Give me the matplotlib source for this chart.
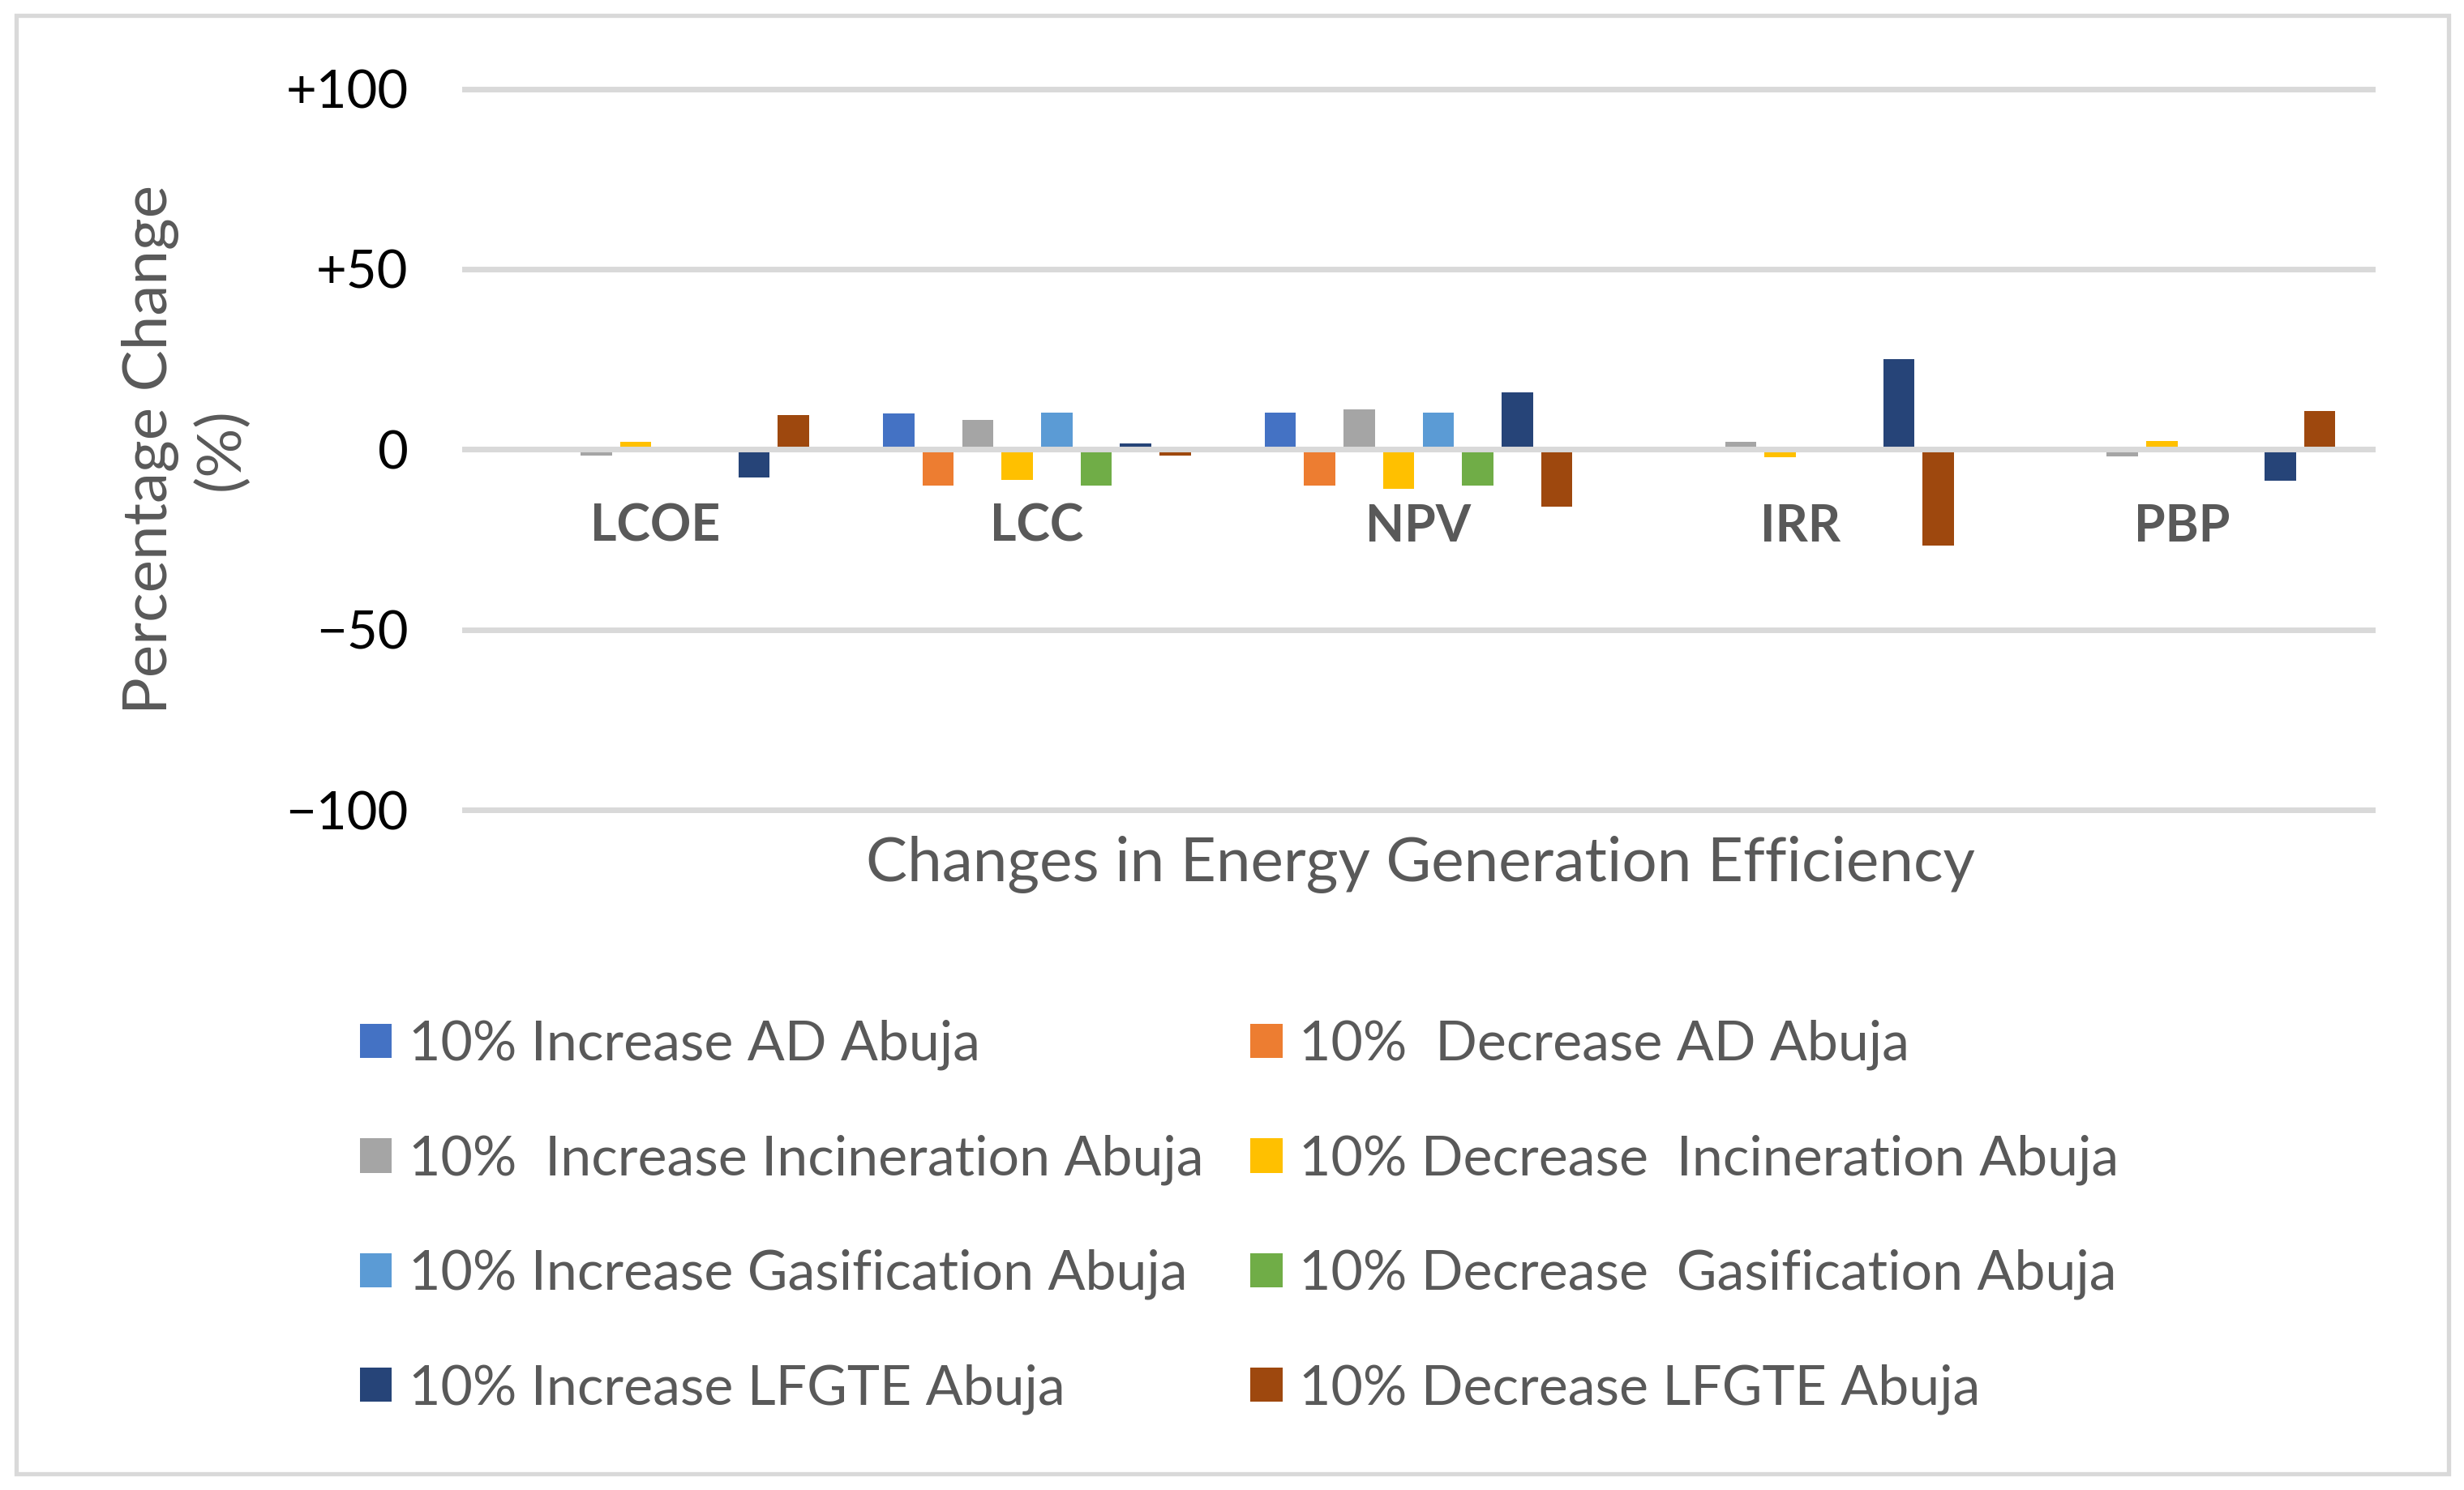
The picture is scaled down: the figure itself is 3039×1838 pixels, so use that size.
import numpy as np
import matplotlib
matplotlib.use("Agg")
import matplotlib.pyplot as plt
from matplotlib.patches import Rectangle

# ---------------- data ----------------
categories = ["LCOE", "LCC", "NPV", "IRR", "PBP"]
series_labels = [
    "10% Increase AD Abuja",
    "10%  Decrease AD Abuja",
    "10%  Increase Incineration Abuja",
    "10% Decrease  Incineration Abuja",
    "10% Increase Gasification Abuja",
    "10% Decrease  Gasification Abuja",
    "10% Increase LFGTE Abuja",
    "10% Decrease LFGTE Abuja",
]
inc_ad = [0.0, 10.0, 10.2, 0.0, 0.0]
dec_ad = [0.0, -10.0, -10.0, 0.0, 0.0]
inc_incin = [-1.7, 8.2, 11.1, 2.1, -1.9]
dec_incin = [2.1, -8.4, -10.9, -2.2, 2.3]
inc_gas = [0.0, 10.2, 10.2, 0.0, 0.0]
dec_gas = [0.0, -10.0, -10.0, 0.0, 0.0]
inc_lfgte = [-7.8, 1.6, 15.8, 25.0, -8.7]
dec_lfgte = [9.5, -1.7, -15.9, -26.7, 10.6]
series_values = [inc_ad, dec_ad, inc_incin, dec_incin,
                 inc_gas, dec_gas, inc_lfgte, dec_lfgte]
colors = ["#4472C4", "#ED7D31", "#A5A5A5", "#FFC000",
          "#5B9BD5", "#70AD47", "#264478", "#9E480E"]
yticks = [-100, -50, 0, 50, 100]
ytick_labels = ["\u2212100", "\u221250", "0", "+50", "+100"]

# ---------------- style ----------------
FONT = "Lato"
TXT = "#595959"
GRID = "#D9D9D9"
FS_TICK = 47
FS_LEG = 49
FS_TITLE = 55
FS_CAT = 45

W, H = 3039, 1838
fig = plt.figure(figsize=(W / 100, H / 100), dpi=100)
fig.patch.set_facecolor("white")

# chart border
fig.add_artist(Rectangle((20 / W, 1 - 1818 / H), 3000 / W, 1799 / H,
                         transform=fig.transFigure, fill=False,
                         edgecolor=GRID, lw=3.8))

left, right = 573 / W, 2926 / W
top, bottom = 1 - 109.5 / H, 1 - 999 / H
ax = fig.add_axes([left, bottom, right - left, top - bottom])

x = np.arange(len(categories))
step = 0.1035
width = 0.082
handles = []
for i, (vals, col, lab) in enumerate(zip(series_values, colors, series_labels)):
    b = ax.bar(x + (i - 3.5) * step, vals, width=width, color=col,
               label=lab, zorder=2)
    handles.append(b)

for s in ["top", "right", "left"]:
    ax.spines[s].set_visible(False)
ax.spines["bottom"].set_position(("data", 0))
ax.spines["bottom"].set_color(GRID)
ax.spines["bottom"].set_linewidth(5)
ax.spines["bottom"].set_zorder(3)

ax.set_xlim(-0.5, len(categories) - 0.5)
ax.set_ylim(-100, 100)
ax.set_yticks(yticks)
ax.set_yticklabels(ytick_labels, fontsize=FS_TICK, family=FONT, color="black")
ax.set_xticks(x)
ax.set_xticklabels(categories, fontsize=FS_CAT, family=FONT,
                   fontweight="bold", color=TXT)
ax.tick_params(axis="y", length=0, pad=50)
ax.tick_params(axis="x", length=0, pad=48)

ax.yaxis.grid(True, color=GRID, lw=5)
ax.set_axisbelow(True)
for gl in ax.get_ygridlines():
    gl.set_clip_on(False)

ax.set_ylabel("Percentage Change\n(%)", fontsize=FS_TITLE, family=FONT,
              color=TXT, linespacing=1.3)
ax.yaxis.set_label_coords((308 - 573) / (2926 - 573), 0.5)

fig.text(1752 / W, 1 - 1066 / H, "Changes in Energy Generation Efficiency",
         ha="center", va="center", fontsize=FS_TITLE, family=FONT, color=TXT)

order = [0, 2, 4, 6, 1, 3, 5, 7]
leg = fig.legend([handles[k] for k in order], [series_labels[k] for k in order],
                 ncol=2, loc="upper left",
                 bbox_to_anchor=(444 / W, 1 - 1258 / H),
                 frameon=False, borderpad=0, borderaxespad=0,
                 handlelength=0.58, handleheight=0.58, handletextpad=0.3,
                 columnspacing=0.85, labelspacing=1.16,
                 prop={"family": FONT, "size": FS_LEG})
for t in leg.get_texts():
    t.set_color(TXT)

fig.savefig("out.png", dpi=100)
